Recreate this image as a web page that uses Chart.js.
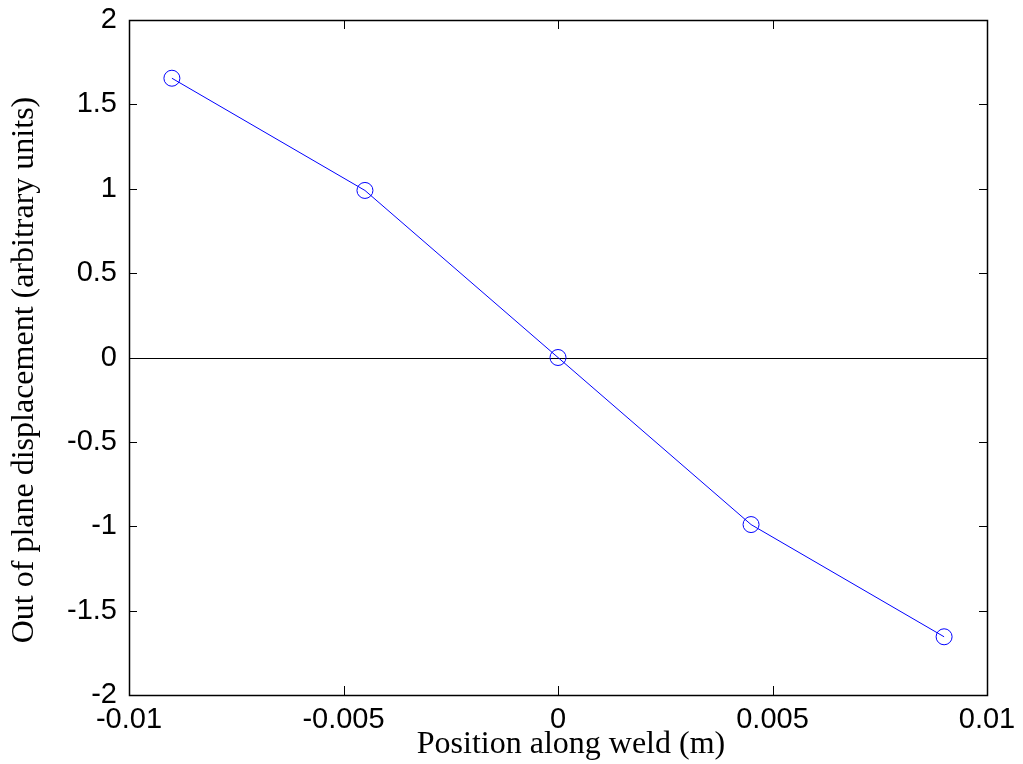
<!DOCTYPE html>
<html>
<head>
<meta charset="utf-8">
<script src="https://cdn.jsdelivr.net/npm/chart.js@4/dist/chart.umd.min.js"></script>
<style>
  html, body { margin: 0; padding: 0; background: #fff; }
  #wrap { width: 1023px; height: 764px; }
</style>
</head>
<body>
<div id="wrap"><canvas id="weldChart" width="1023" height="764"></canvas></div>
<script>
// Out-of-plane displacement along the weld, MATLAB-style figure.
const xValues = [-0.009, -0.0045, 0, 0.0045, 0.009];
const displacement = [1.655, 0.99, 0, -0.99, -1.655];
const xTicks = [-0.01, -0.005, 0, 0.005, 0.01];
const xTickLabels = ["-0.01", "-0.005", "0", "0.005", "0.01"];
const yTicks = [2, 1.5, 1, 0.5, 0, -0.5, -1, -1.5, -2];
const yTickLabels = ["2", "1.5", "1", "0.5", "0", "-0.5", "-1", "-1.5", "-2"];
const xTitle = "Position along weld (m)";
const yTitle = "Out of plane displacement (arbitrary units)";

const tickFont = { family: "'Liberation Sans', Arial, sans-serif", size: 29 };
const titleFont = "32px 'Liberation Serif', 'Times New Roman', serif";

// frame, inward ticks on all sides, zero line and axis titles
const matlabAxes = {
  id: "matlabAxes",
  beforeDatasetsDraw(chart) {
    const { ctx, chartArea: a, scales: { y } } = chart;
    const y0 = Math.round(y.getPixelForValue(0)) + 0.5;
    ctx.save();
    ctx.strokeStyle = "#000";
    ctx.lineWidth = 1;
    ctx.beginPath();
    ctx.moveTo(a.left, y0);
    ctx.lineTo(a.right, y0);
    ctx.stroke();
    ctx.restore();
  },
  afterDraw(chart) {
    const { ctx, chartArea: a, scales: { x, y } } = chart;
    ctx.save();
    ctx.strokeStyle = "#000";
    ctx.lineWidth = 1;
    ctx.beginPath();
    y.ticks.forEach(t => {
      const p = Math.round(y.getPixelForValue(t.value)) + 0.5;
      ctx.moveTo(a.left, p); ctx.lineTo(a.left + 8, p);
      ctx.moveTo(a.right, p); ctx.lineTo(a.right - 8, p);
    });
    x.ticks.forEach(t => {
      const p = Math.round(x.getPixelForValue(t.value)) + 0.5;
      ctx.moveTo(p, a.bottom); ctx.lineTo(p, a.bottom - 9);
      ctx.moveTo(p, a.top); ctx.lineTo(p, a.top + 9);
    });
    ctx.stroke();
    ctx.lineWidth = 1.5;
    ctx.strokeRect(Math.round(a.left) + 0.5, Math.round(a.top) + 0.5,
      Math.round(a.right - a.left), Math.round(a.bottom - a.top));

    ctx.fillStyle = "#000";
    ctx.font = titleFont;
    ctx.textAlign = "center";
    ctx.textBaseline = "middle";
    ctx.fillText(xTitle, 571, 745);
    ctx.translate(25, 370);
    ctx.rotate(-Math.PI / 2);
    ctx.fillText(yTitle, 0, 0);
    ctx.restore();
  }
};

new Chart(document.getElementById("weldChart"), {
  type: "line",
  data: {
    datasets: [{
      data: xValues.map((v, i) => ({ x: v, y: displacement[i] })),
      borderColor: "#0000ff",
      borderWidth: 1,
      backgroundColor: "transparent",
      pointStyle: "circle",
      pointRadius: 8,
      pointBorderWidth: 1,
      pointBorderColor: "#0000ff",
      pointBackgroundColor: "transparent",
      tension: 0
    }]
  },
  options: {
    responsive: false,
    animation: false,
    layout: { padding: { top: 20, right: 36, left: 0, bottom: 0 } },
    plugins: { legend: { display: false }, tooltip: { enabled: false } },
    scales: {
      x: {
        type: "linear",
        min: -0.01, max: 0.01,
        afterBuildTicks: s => { s.ticks = xTicks.map(v => ({ value: v })); },
        afterFit: s => { s.height = 69; s.paddingLeft = 0; s.paddingRight = 0; },
        grid: { display: false, drawTicks: false },
        border: { display: false },
        ticks: {
          color: "#000", font: tickFont, padding: 8, maxRotation: 0, autoSkip: false,
          callback: (v, i) => xTickLabels[i]
        }
      },
      y: {
        type: "linear",
        min: -2, max: 2,
        afterBuildTicks: s => { s.ticks = yTicks.map(v => ({ value: v })); },
        afterFit: s => { s.width = 129; s.paddingTop = 0; s.paddingBottom = 0; },
        grid: { display: false, drawTicks: false },
        border: { display: false },
        ticks: {
          color: "#000", font: tickFont, padding: 12, autoSkip: false,
          callback: (v, i) => yTickLabels[i]
        }
      }
    }
  },
  plugins: [matlabAxes]
});
</script>
</body>
</html>
